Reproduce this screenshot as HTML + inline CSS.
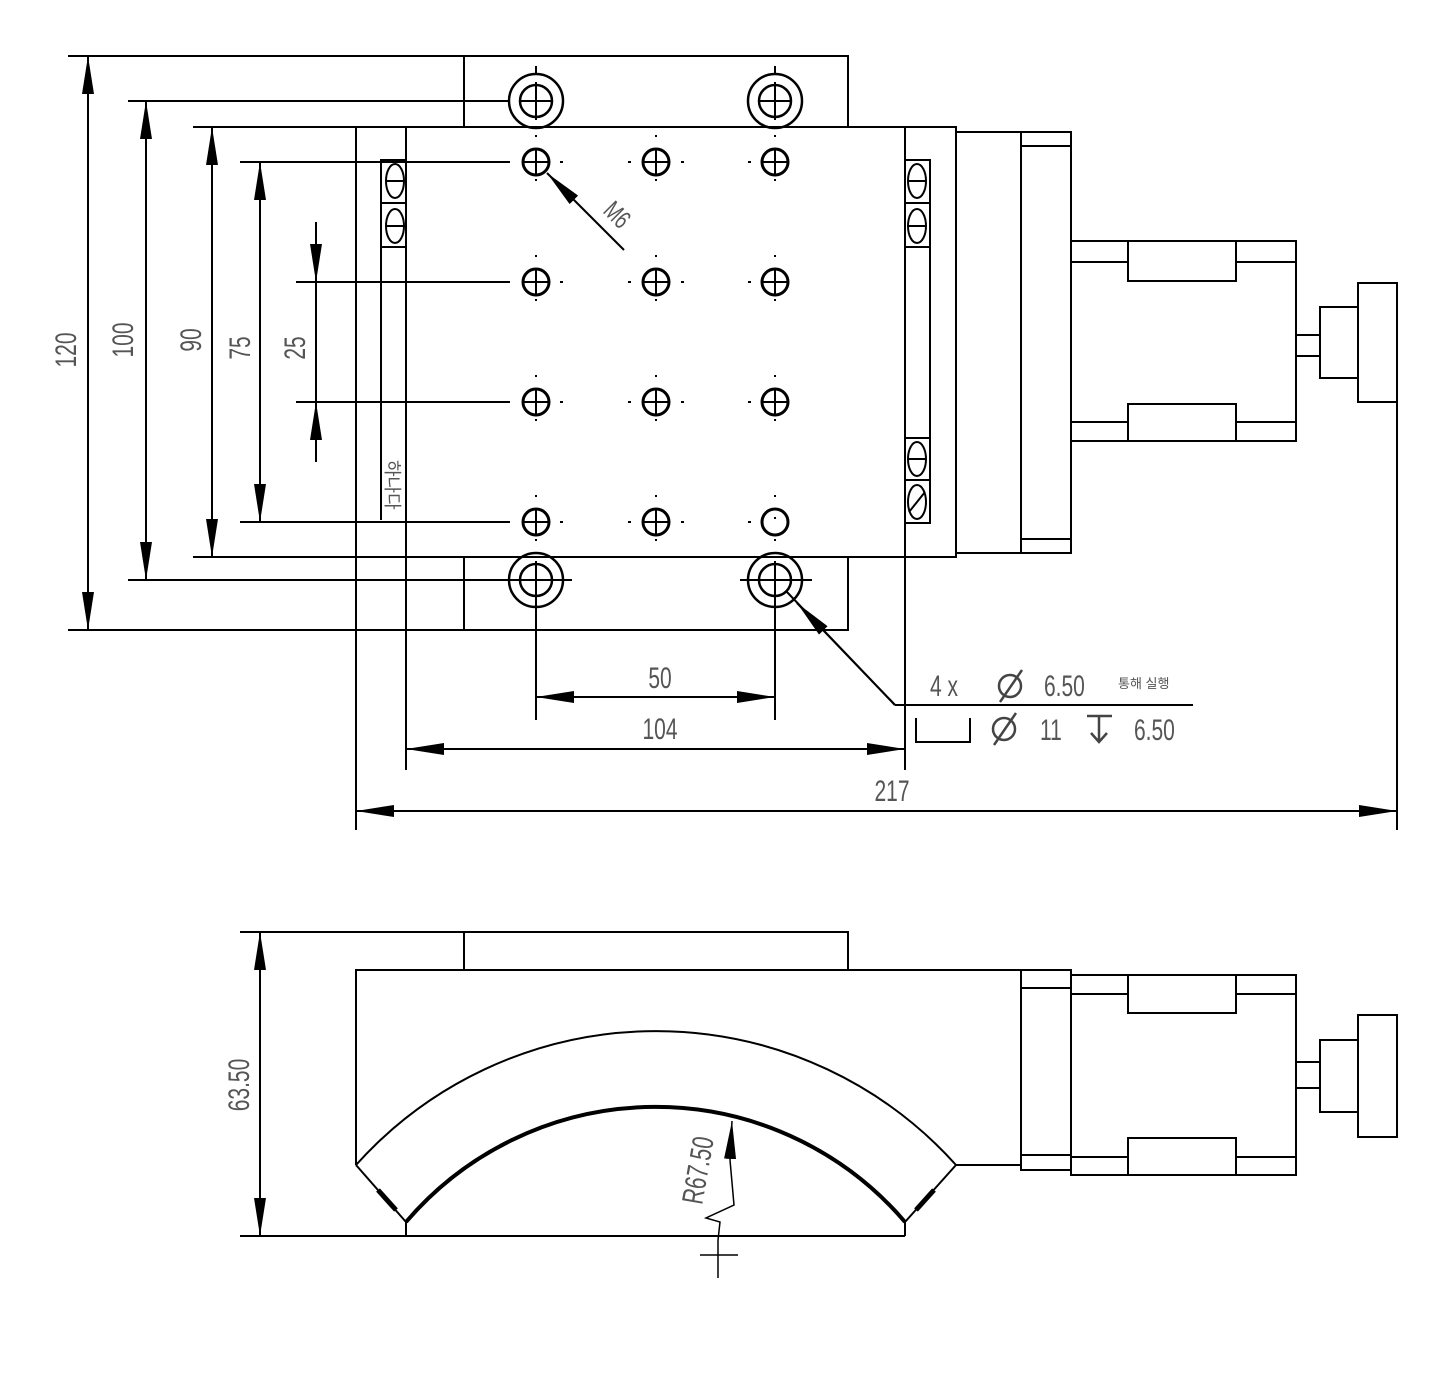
<!DOCTYPE html>
<html><head><meta charset="utf-8"><style>
html,body{margin:0;padding:0;background:#fff}
svg{display:block}
text{font-family:"Liberation Sans","Noto Sans CJK KR",sans-serif;fill:#555}
</style></head><body>
<svg width="1432" height="1394" viewBox="0 0 1432 1394" xmlns="http://www.w3.org/2000/svg">
<defs>
<marker id="a" viewBox="0 0 38 12" refX="38" refY="6" markerWidth="38" markerHeight="12" markerUnits="userSpaceOnUse" orient="auto-start-reverse">
<path d="M38,6 L0,0 L0,12 Z" fill="#000"/></marker>
</defs>
<g stroke="#000" stroke-width="2" fill="none">
<!-- TOP VIEW -->
<rect x="464" y="56" width="384" height="574"/>
<line x1="68" y1="56" x2="464" y2="56"/>
<line x1="68" y1="630" x2="464" y2="630"/>
<rect x="356" y="127" width="600" height="430" fill="#fff"/>
<line x1="406" y1="127" x2="406" y2="770"/>
<line x1="905" y1="127" x2="905" y2="770"/>
<line x1="356" y1="557" x2="356" y2="830"/>
<line x1="464" y1="557" x2="464" y2="630"/>
<line x1="848" y1="557" x2="848" y2="630"/>
<line x1="464" y1="56" x2="464" y2="127"/>
<rect x="956" y="132" width="65" height="421"/>
<rect x="1021" y="132" width="50" height="421"/>
<line x1="1021" y1="146" x2="1071" y2="146"/>
<line x1="1021" y1="539" x2="1071" y2="539"/>
<rect x="1071" y="241" width="225" height="200"/>
<line x1="1071" y1="262" x2="1128" y2="262"/>
<line x1="1236" y1="262" x2="1296" y2="262"/>
<rect x="1128" y="241" width="108" height="40" fill="#fff"/>
<line x1="1071" y1="422" x2="1128" y2="422"/>
<line x1="1236" y1="422" x2="1296" y2="422"/>
<rect x="1128" y="404" width="108" height="37" fill="#fff"/>
<line x1="1296" y1="335" x2="1320" y2="335"/>
<line x1="1296" y1="356" x2="1320" y2="356"/>
<rect x="1320" y="307" width="38" height="71"/>
<rect x="1358" y="283" width="39" height="119"/>
<line x1="1397" y1="402" x2="1397" y2="830"/>
<rect x="381" y="160" width="25" height="87"/>
<line x1="381" y1="203" x2="406" y2="203"/>
<ellipse cx="395" cy="181" rx="9" ry="17"/><line x1="387" y1="181" x2="404" y2="181"/>
<ellipse cx="395" cy="226" rx="9" ry="17"/><line x1="387" y1="226" x2="404" y2="226"/>
<line x1="381" y1="247" x2="381" y2="520"/>
<rect x="905" y="160" width="25" height="87"/>
<line x1="905" y1="203" x2="930" y2="203"/>
<ellipse cx="917" cy="181" rx="9" ry="17"/><line x1="909" y1="181" x2="926" y2="181"/>
<ellipse cx="917" cy="226" rx="9" ry="17"/><line x1="909" y1="226" x2="926" y2="226"/>
<line x1="930" y1="247" x2="930" y2="438"/>
<rect x="905" y="438" width="25" height="85"/>
<line x1="905" y1="480" x2="930" y2="480"/>
<ellipse cx="917" cy="459" rx="9" ry="17"/><line x1="909" y1="459" x2="926" y2="459"/>
<ellipse cx="917" cy="502" rx="9" ry="17"/><line x1="909" y1="512" x2="925" y2="492"/>
<g stroke-width="2.5">
<circle cx="536" cy="101" r="27"/><circle cx="536" cy="101" r="16"/>
<circle cx="775" cy="101" r="27"/><circle cx="775" cy="101" r="16"/>
<circle cx="536" cy="580" r="27"/><circle cx="536" cy="580" r="16"/>
<circle cx="775" cy="580" r="27"/><circle cx="775" cy="580" r="16"/>
</g>
<line x1="536" y1="82" x2="536" y2="120"/><line x1="520" y1="101" x2="552" y2="101"/>
<line x1="775" y1="82" x2="775" y2="120"/><line x1="759" y1="101" x2="791" y2="101"/>
<line x1="536" y1="561" x2="536" y2="720"/><line x1="500" y1="580" x2="572" y2="580"/>
<line x1="775" y1="561" x2="775" y2="720"/><line x1="740" y1="580" x2="812" y2="580"/>
<line x1="536" y1="66" x2="536" y2="74"/><line x1="775" y1="66" x2="775" y2="74"/>
<g stroke-width="3">
<circle cx="536" cy="162" r="13"/><circle cx="656" cy="162" r="13"/><circle cx="775" cy="162" r="13"/>
<circle cx="536" cy="282" r="13"/><circle cx="656" cy="282" r="13"/><circle cx="775" cy="282" r="13"/>
<circle cx="536" cy="402" r="13"/><circle cx="656" cy="402" r="13"/><circle cx="775" cy="402" r="13"/>
<circle cx="536" cy="522" r="13"/><circle cx="656" cy="522" r="13"/><circle cx="775" cy="522" r="13"/>
</g>
<g stroke-width="2">
<path d="M536 149V175M523 162H549M656 149V175M643 162H669M775 149V175M762 162H788"/>
<path d="M536 269V295M523 282H549M656 269V295M643 282H669M775 269V295M762 282H788"/>
<path d="M536 389V415M523 402H549M656 389V415M643 402H669M775 389V415M762 402H788"/>
<path d="M536 509V535M523 522H549M656 509V535M643 522H669"/>
</g>
<g stroke-width="2" stroke-dasharray="2 20">
<path d="M536 135V190M656 135V190M775 135V190M536 255V310M656 255V310M775 255V310M536 375V430M656 375V430M775 375V430M536 495V550M656 495V550M775 495V550"/>
</g>
<path d="M560 162h3M628 162h3M681 162h3M748 162h3M560 282h3M628 282h3M681 282h3M748 282h3M560 402h3M628 402h3M681 402h3M748 402h3M560 522h3M628 522h3M681 522h3M748 522h3"/>
<line x1="128" y1="101" x2="510" y2="101"/>
<line x1="128" y1="580" x2="510" y2="580"/>
<line x1="193" y1="127" x2="356" y2="127"/>
<line x1="193" y1="557" x2="356" y2="557"/>
<line x1="240" y1="162" x2="510" y2="162"/>
<line x1="240" y1="522" x2="510" y2="522"/>
<line x1="296" y1="282" x2="510" y2="282"/>
<line x1="296" y1="402" x2="510" y2="402"/>
<line x1="88" y1="56" x2="88" y2="630" marker-start="url(#a)" marker-end="url(#a)"/>
<line x1="146" y1="101" x2="146" y2="580" marker-start="url(#a)" marker-end="url(#a)"/>
<line x1="212" y1="127" x2="212" y2="557" marker-start="url(#a)" marker-end="url(#a)"/>
<line x1="260" y1="162" x2="260" y2="522" marker-start="url(#a)" marker-end="url(#a)"/>
<line x1="316" y1="222" x2="316" y2="282" marker-end="url(#a)"/>
<line x1="316" y1="462" x2="316" y2="402" marker-end="url(#a)"/>
<line x1="316" y1="282" x2="316" y2="402"/>
<line x1="536" y1="697" x2="775" y2="697" marker-start="url(#a)" marker-end="url(#a)"/>
<line x1="406" y1="749" x2="905" y2="749" marker-start="url(#a)" marker-end="url(#a)"/>
<line x1="356" y1="811" x2="1397" y2="811" marker-start="url(#a)" marker-end="url(#a)"/>
<line x1="624" y1="250" x2="547" y2="173" marker-end="url(#a)"/>
<line x1="1193" y1="705" x2="895" y2="705"/>
<line x1="895" y1="705" x2="786" y2="591"/>
<line x1="895" y1="705" x2="797" y2="603" marker-end="url(#a)"/>
<polyline points="916,718 916,742 970,742 970,718"/>
<!-- BOTTOM VIEW -->
<rect x="464" y="932" width="384" height="38"/>
<line x1="240" y1="932" x2="464" y2="932"/>
<polyline points="356,1165 356,970 1021,970"/>
<line x1="240" y1="1236" x2="905" y2="1236"/>
<path d="M356 1165 A403 403 0 0 1 956 1165"/>
<path d="M406 1222 A328 328 0 0 1 905 1222" stroke-width="4"/>
<line x1="356" y1="1165" x2="406" y2="1222"/>
<line x1="956" y1="1165" x2="905" y2="1222"/>
<line x1="378" y1="1190" x2="396" y2="1210" stroke-width="5"/>
<line x1="934" y1="1190" x2="916" y2="1210" stroke-width="5"/>
<line x1="406" y1="1222" x2="406" y2="1236"/>
<line x1="905" y1="1222" x2="905" y2="1236"/>
<line x1="956" y1="1165" x2="1021" y2="1165"/>
<rect x="1021" y="970" width="50" height="200"/>
<line x1="1021" y1="988" x2="1071" y2="988"/>
<line x1="1021" y1="1155" x2="1071" y2="1155"/>
<rect x="1071" y="975" width="225" height="200"/>
<line x1="1071" y1="994" x2="1128" y2="994"/>
<line x1="1236" y1="994" x2="1296" y2="994"/>
<rect x="1128" y="975" width="108" height="38" fill="#fff"/>
<line x1="1071" y1="1157" x2="1128" y2="1157"/>
<line x1="1236" y1="1157" x2="1296" y2="1157"/>
<rect x="1128" y="1138" width="108" height="37" fill="#fff"/>
<line x1="1296" y1="1062" x2="1320" y2="1062"/>
<line x1="1296" y1="1088" x2="1320" y2="1088"/>
<rect x="1320" y="1040" width="38" height="72"/>
<rect x="1358" y="1015" width="39" height="122"/>
<line x1="260" y1="932" x2="260" y2="1236" marker-start="url(#a)" marker-end="url(#a)"/>
<polyline points="718,1278 718,1240 720,1222 706,1218 734,1205 730,1160" stroke-width="1.5"/>
<line x1="730" y1="1160" x2="732" y2="1121" marker-end="url(#a)" stroke-width="1.5"/>
<line x1="700" y1="1255" x2="738" y2="1255" stroke-width="1.5"/>
</g>
<g font-size="30">
<text transform="translate(76,350) rotate(-90) scale(0.7,1)" text-anchor="middle">120</text>
<text transform="translate(133,340) rotate(-90) scale(0.7,1)" text-anchor="middle">100</text>
<text transform="translate(201,340) rotate(-90) scale(0.7,1)" text-anchor="middle">90</text>
<text transform="translate(250,348) rotate(-90) scale(0.7,1)" text-anchor="middle">75</text>
<text transform="translate(305,348) rotate(-90) scale(0.7,1)" text-anchor="middle">25</text>
<text transform="translate(660,688) scale(0.7,1)" text-anchor="middle">50</text>
<text transform="translate(660,739) scale(0.7,1)" text-anchor="middle">104</text>
<text transform="translate(892,801) scale(0.7,1)" text-anchor="middle">217</text>
<text transform="translate(249,1085) rotate(-90) scale(0.7,1)" text-anchor="middle">63.50</text>
<text transform="translate(708,1172) rotate(-80) scale(0.7,1)" text-anchor="middle">R67.50</text>
<text transform="translate(602,212) rotate(45) scale(0.7,1)" font-size="26">M6</text>
<text transform="translate(930,696) scale(0.7,1)">4  x</text>
<text transform="translate(1044,696) scale(0.7,1)">6.50</text>
<text transform="translate(1040,740) scale(0.7,1)">11</text>
<text transform="translate(1134,740) scale(0.7,1)">6.50</text>
</g>
<text x="1118" y="688" font-size="13" fill="#333">통해 실행</text>
<text transform="translate(386,460) rotate(90)" font-size="18" fill="#666">하나다</text>
<g stroke="#444" stroke-width="2.5" fill="none">
<circle cx="1010" cy="686" r="11"/><line x1="1000" y1="702" x2="1022" y2="670"/>
<circle cx="1004" cy="729" r="11"/><line x1="994" y1="745" x2="1016" y2="713"/>
<path d="M1087 716H1112M1099 716V742M1091 733L1099 742L1107 733"/>
</g>
</svg>
</body></html>
